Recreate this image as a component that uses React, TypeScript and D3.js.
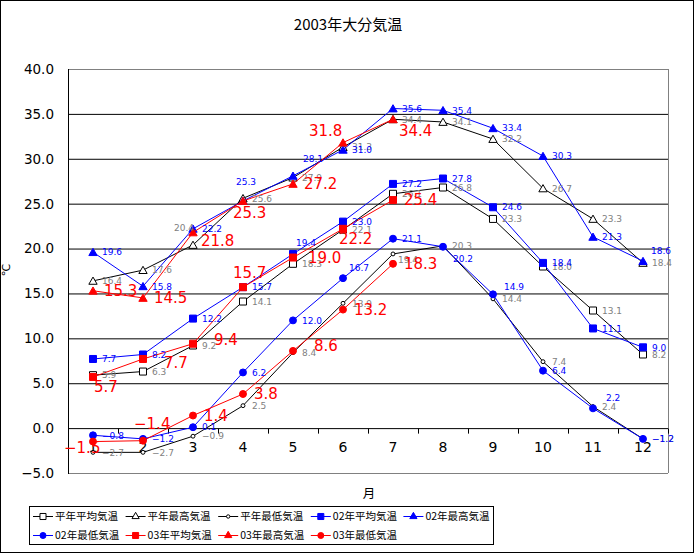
import { useEffect, useRef } from "react";
import * as d3 from "d3";

// months on the category axis
const months = ["1", "2", "3", "4", "5", "6", "7", "8", "9", "10", "11", "12"];
const yTicks = [-5, 0, 5, 10, 15, 20, 25, 30, 35, 40];

// normal values
const normalAvg = [5.9, 6.3, 9.2, 14.1, 18.3, 22.1, 26.1, 26.8, 23.3, 18.0, 13.1, 8.2];
const normalMax = [16.4, 17.6, 20.4, 25.6, 27.9, 31.3, 34.4, 34.1, 32.2, 26.7, 23.3, 18.4];
const normalMin = [-2.7, -2.7, -0.9, 2.5, 8.4, 13.9, 19.4, 20.3, 14.4, 7.4, 2.4, -1.2];

// 2002
const avg02 = [7.7, 8.2, 12.2, 15.7, 19.4, 23.0, 27.2, 27.8, 24.6, 18.4, 11.1, 9.0];
const max02 = [19.6, 15.8, 22.2, 25.3, 28.1, 31.0, 35.6, 35.4, 33.4, 30.3, 21.3, 18.6];
const min02 = [-0.8, -1.2, 0.1, 6.2, 12.0, 16.7, 21.1, 20.2, 14.9, 6.4, 2.2, -1.2];

// 2003 (through July)
const avg03 = [5.7, 7.7, 9.4, 15.7, 19.0, 22.2, 25.4];
const max03 = [15.3, 14.5, 21.8, 25.3, 27.2, 31.8, 34.4];
const min03 = [-1.5, -1.4, 1.4, 3.8, 8.6, 13.2, 18.3];

type Marker = "square" | "triangle" | "circle" | "dot";

interface Series {
  name: string;
  values: number[];
  color: string;
  labelColor: string;
  marker: Marker;
  filled: boolean;
  big: boolean;
  // hand-placed data labels: index -> [dx, dy]
  nudge?: Record<number, [number, number]>;
}

const series: Series[] = [
  { name: "平年平均気温", values: normalAvg, color: "#000", labelColor: "#808080", marker: "square", filled: false, big: false },
  { name: "平年最高気温", values: normalMax, color: "#000", labelColor: "#808080", marker: "triangle", filled: false, big: false, nudge: { 2: [-19, -17] } },
  { name: "平年最低気温", values: normalMin, color: "#000", labelColor: "#808080", marker: "dot", filled: false, big: false, nudge: { 6: [5, 6] } },
  { name: "02年平均気温", values: avg02, color: "#0000ff", labelColor: "#0000ff", marker: "square", filled: true, big: false, nudge: { 4: [3, -11] } },
  { name: "02年最高気温", values: max02, color: "#0000ff", labelColor: "#0000ff", marker: "triangle", filled: true, big: false, nudge: { 3: [-7, -19], 4: [10, -17], 11: [8, -10] } },
  { name: "02年最低気温", values: min02, color: "#0000ff", labelColor: "#0000ff", marker: "circle", filled: true, big: false, nudge: { 5: [6, -10], 7: [10, 12], 8: [11, -8], 10: [13, -11] } },
  { name: "03年平均気温", values: avg03, color: "#ff0000", labelColor: "#ff0000", marker: "square", filled: true, big: true, nudge: { 0: [1, 10], 1: [21, 4], 2: [21, -4], 3: [-10, -15], 4: [15, 0], 5: [-4, 10] } },
  { name: "03年最高気温", values: max03, color: "#ff0000", labelColor: "#ff0000", marker: "triangle", filled: true, big: true, nudge: { 2: [8, 8], 3: [-10, 12], 5: [-34, -12], 6: [6, 11] } },
  { name: "03年最低気温", values: min03, color: "#ff0000", labelColor: "#ff0000", marker: "circle", filled: true, big: true, nudge: { 0: [-29, 6], 1: [-9, -17], 4: [21, -5] } },
];

const W = 694;
const H = 553;
const plot = { left: 68, right: 668, top: 69, bottom: 473 };

const symbolFor = (m: Marker, legend = false) => {
  const k = legend ? 0.75 : 1;
  if (m === "square") return d3.symbol(d3.symbolSquare, 49 * k)();
  if (m === "triangle") return d3.symbol(d3.symbolTriangle, 30 * k)();
  if (m === "circle") return d3.symbol(d3.symbolCircle, 38 * k)();
  return d3.symbol(d3.symbolCircle, 12 * k)();
};

const App = () => {
  const svgRef = useRef<SVGSVGElement | null>(null);

  useEffect(() => {
    document.body.style.margin = "0";
    const svg = d3.select(svgRef.current);
    svg.selectAll("*").remove();

    const x = d3.scaleBand().domain(months).range([plot.left, plot.right]);
    const y = d3.scaleLinear().domain([-5, 40]).range([plot.bottom, plot.top]);
    const cx = (i: number) => (x(months[i]) as number) + x.bandwidth() / 2;

    svg.append("rect").attr("x", 0.5).attr("y", 0.5).attr("width", W - 1).attr("height", H - 1)
      .attr("fill", "#fff").attr("stroke", "#000");

    // title
    svg.append("text").attr("x", 348).attr("y", 30).attr("text-anchor", "middle")
      .attr("font-family", "'Noto Sans CJK JP', sans-serif").attr("font-size", 15)
      .text("2003年大分気温");

    // gridlines
    svg.append("g").selectAll("line").data(yTicks.filter((t) => t !== 0)).join("line")
      .attr("x1", plot.left).attr("x2", plot.right)
      .attr("y1", (d) => y(d) + 0.5).attr("y2", (d) => y(d) + 0.5)
      .attr("stroke", (d) => (d === 40 || d === -5 ? "#808080" : "#000"));
    svg.append("line").attr("x1", plot.right + 0.5).attr("x2", plot.right + 0.5)
      .attr("y1", plot.top).attr("y2", plot.bottom).attr("stroke", "#808080");

    // y axis
    svg.append("line").attr("x1", plot.left + 0.5).attr("x2", plot.left + 0.5)
      .attr("y1", plot.top).attr("y2", plot.bottom + 1).attr("stroke", "#000");
    svg.append("g").selectAll("text").data(yTicks).join("text")
      .attr("x", 54).attr("y", (d) => y(d)).attr("dy", "0.36em").attr("text-anchor", "end")
      .attr("font-family", "DejaVu Sans, sans-serif").attr("font-size", 13.5)
      .text((d) => d3.format(".1f")(d));
    svg.append("text").attr("transform", "translate(10,270) rotate(-90)").attr("text-anchor", "middle")
      .attr("font-family", "DejaVu Sans, sans-serif").attr("font-size", 11).text("℃");

    // x axis at 0
    const x0 = y(0) + 0.5;
    svg.append("line").attr("x1", plot.left).attr("x2", plot.right).attr("y1", x0).attr("y2", x0).attr("stroke", "#000");
    svg.append("g").selectAll("line").data(d3.range(13)).join("line")
      .attr("x1", (d) => plot.left + d * x.bandwidth() + 0.5).attr("x2", (d) => plot.left + d * x.bandwidth() + 0.5)
      .attr("y1", x0).attr("y2", x0 + 5).attr("stroke", "#000");
    svg.append("g").selectAll("text").data(months).join("text")
      .attr("x", (_, i) => cx(i)).attr("y", 452).attr("text-anchor", "middle")
      .attr("font-family", "DejaVu Sans, sans-serif").attr("font-size", 14).text((d) => d);
    svg.append("text").attr("x", 369).attr("y", 498).attr("text-anchor", "middle")
      .attr("font-family", "'Noto Sans CJK JP', sans-serif").attr("font-size", 12.5).text("月");

    // lines + markers
    const line = d3.line<number>().x((_, i) => cx(i)).y((d) => y(d));
    series.forEach((s) => {
      const g = svg.append("g");
      g.append("path").attr("d", line(s.values)).attr("fill", "none").attr("stroke", s.color).attr("stroke-width", 1);
      g.selectAll("path.m").data(s.values).join("path").attr("class", "m")
        .attr("d", symbolFor(s.marker))
        .attr("transform", (d, i) => `translate(${cx(i)},${y(d) + (s.marker === "triangle" ? 1 : 0)})`)
        .attr("fill", s.filled ? s.color : "#fff").attr("stroke", s.color).attr("stroke-width", 1);
    });

    // data labels
    series.forEach((s) => {
      svg.append("g").selectAll("text").data(s.values).join("text")
        .attr("x", (_, i) => cx(i) + (s.nudge?.[i]?.[0] ?? (s.big ? 11 : 9)))
        .attr("y", (d, i) => y(d) + (s.nudge?.[i]?.[1] ?? 0))
        .attr("dy", "0.36em")
        .attr("font-family", "DejaVu Sans, sans-serif")
        .attr("font-size", s.big ? 15 : 9)
        .attr("fill", s.labelColor)
        .text((d) => d3.format(".1f")(d));
    });

    // legend
    const lg = svg.append("g");
    lg.append("rect").attr("x", 29.5).attr("y", 506.5).attr("width", 464).attr("height", 38)
      .attr("fill", "#fff").attr("stroke", "#000");
    series.forEach((s, i) => {
      const col = i < 5 ? i : i - 5;
      const row = i < 5 ? 0 : 1;
      const lx = 33 + col * 92.6;
      const ly = row === 0 ? 516 : 535;
      const e = lg.append("g").attr("transform", `translate(${lx},${ly})`);
      e.append("line").attr("x1", 0).attr("x2", 20).attr("y1", 0.5).attr("y2", 0.5).attr("stroke", s.color);
      e.append("path").attr("d", symbolFor(s.marker, true)).attr("transform", "translate(10,0.5)")
        .attr("fill", s.filled ? s.color : "#fff").attr("stroke", s.color);
      e.append("text").attr("x", 22).attr("y", 0).attr("dy", "0.38em")
        .attr("font-family", "'Noto Sans CJK JP', sans-serif").attr("font-size", 10.5).text(s.name);
    });
  }, []);

  return <svg ref={svgRef} width={W} height={H} style={{ display: "block" }} />;
};

export default App;
